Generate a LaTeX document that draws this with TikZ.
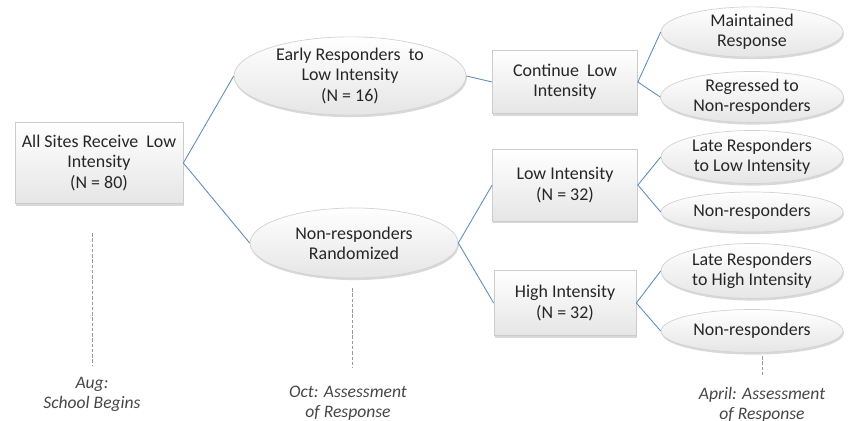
\documentclass[tikz,border=0pt]{standalone}
\usepackage{fontspec}
\setmainfont{Carlito}
\usetikzlibrary{shapes.geometric,shadows}
\definecolor{linkblue}{RGB}{95,140,190}
\definecolor{notegray}{RGB}{70,70,70}
\begin{document}
\begin{tikzpicture}[x=0.02cm, y=-0.02cm,
  every node/.style={font=\fontsize{10.2}{11.5}\selectfont, text=black!85, align=center},
  stagebox/.style={rectangle, draw=gray!40, top color=white, bottom color=gray!20,
    drop shadow={opacity=0.3, shadow xshift=0.5pt, shadow yshift=-1.2pt}, inner sep=0pt},
  outcome/.style={ellipse, draw=gray!35, top color=white, bottom color=gray!20,
    drop shadow={opacity=0.3, shadow xshift=0.5pt, shadow yshift=-1.2pt}, inner sep=0pt},
  link/.style={draw=linkblue, line width=0.5pt},
  timeline/.style={draw=gray!80, dash pattern=on 2pt off 1pt, line width=0.5pt},
  note/.style={font=\fontsize{10}{11.2}\selectfont\itshape, text=notegray}]
  \useasboundingbox (0,0) rectangle (857,421);
  % stages
  \node[stagebox, minimum width=3.36cm, minimum height=1.62cm] (all) at (99,163)
    {All Sites Receive\ \ Low\\Intensity\\(N = 80)};
  \node[outcome, minimum width=4.64cm, minimum height=1.56cm] (early) at (350,76)
    {Early Responders\ \ to\\Low Intensity\\(N = 16)};
  \node[outcome, minimum width=4.16cm, minimum height=1.4cm] (rand) at (354,243)
    {Non-responders\\Randomized};
  \node[stagebox, minimum width=2.9cm, minimum height=1.26cm] (cont) at (565,82)
    {Continue\ \ Low\\Intensity};
  \node[stagebox, minimum width=2.9cm, minimum height=1.44cm] (low) at (565,185)
    {Low Intensity\\(N = 32)};
  \node[stagebox, minimum width=2.84cm, minimum height=1.3cm] (high) at (565,303)
    {High Intensity\\(N = 32)};
  % outcomes
  \node[outcome, minimum width=3.64cm, minimum height=0.94cm] (maint) at (752,32)
    {Maintained\\Response};
  \node[outcome, minimum width=3.66cm, minimum height=1.02cm] (regr) at (752,97)
    {Regressed to\\Non-responders};
  \node[outcome, minimum width=3.64cm, minimum height=1.06cm] (latelow) at (752,157)
    {Late Responders\\to Low Intensity};
  \node[outcome, minimum width=3.64cm, minimum height=0.8cm] (nonlow) at (752,212)
    {Non-responders};
  \node[outcome, minimum width=3.64cm, minimum height=1.1cm] (latehigh) at (752,271)
    {Late Responders\\to High Intensity};
  \node[outcome, minimum width=3.64cm, minimum height=0.86cm] (nonhigh) at (752,331)
    {Non-responders};
  % connectors
  \draw[link] (early.west) -- (all.east) -- (rand.west);
  \draw[link] (early.east) -- (cont.west);
  \draw[link] (low.west) -- (rand.east) -- (high.west);
  \draw[link] (maint.west) -- (cont.east) -- (regr.west);
  \draw[link] (latelow.west) -- (low.east) -- (nonlow.west);
  \draw[link] (latehigh.west) -- (high.east) -- (nonhigh.west);
  % time line
  \coordinate (augtop) at (92,233);
  \coordinate (augbot) at (92,366);
  \coordinate (octtop) at (352,288);
  \coordinate (octbot) at (352,368);
  \coordinate (aprtop) at (762,356);
  \coordinate (aprbot) at (762,376);
  \draw[timeline] (augtop) -- (augbot);
  \draw[timeline] (octtop) -- (octbot);
  \draw[timeline] (aprtop) -- (aprbot);
  \node[note, anchor=north] (aug) at (92,371) {Aug:\\School Begins};
  \node[note, anchor=north] (oct) at (348,380) {Oct: Assessment\\of Response};
  \node[note, anchor=north] (apr) at (762,381) {April: Assessment\\of Response};
\end{tikzpicture}
\end{document}
